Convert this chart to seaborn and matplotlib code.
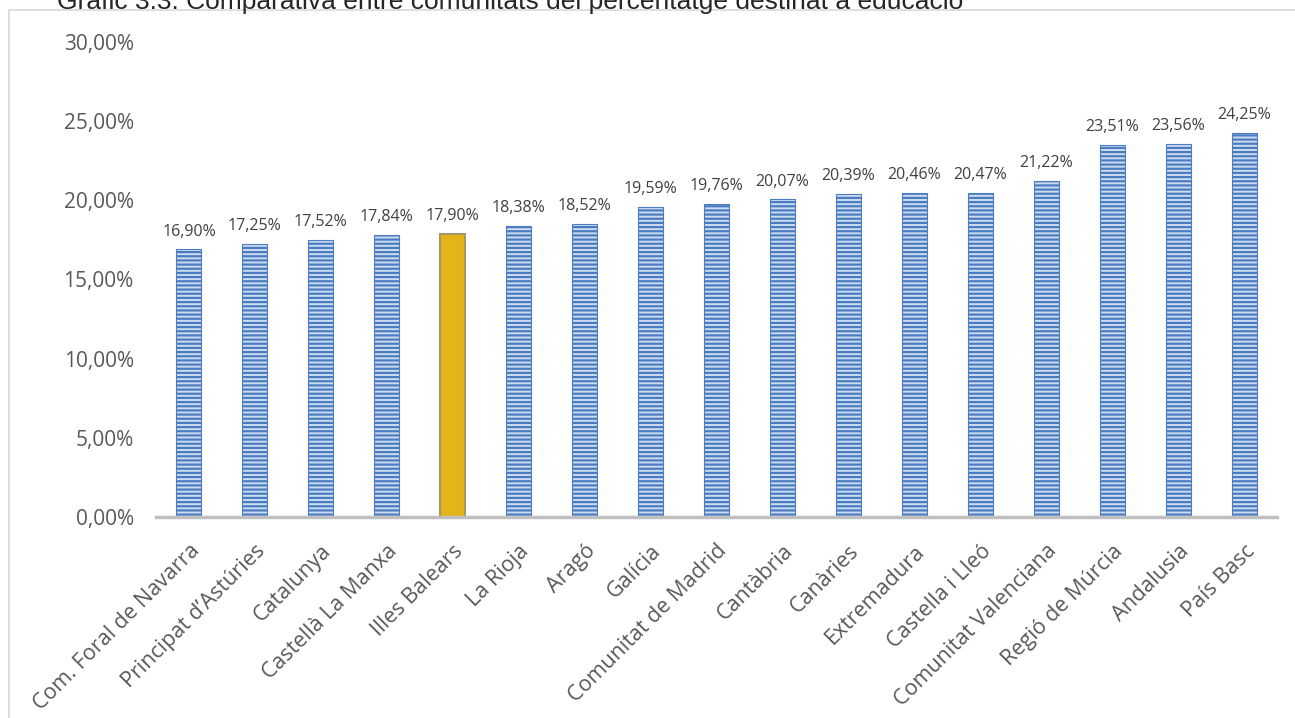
import matplotlib
matplotlib.use("Agg")
import matplotlib.pyplot as plt
import seaborn as sns
import pandas as pd
from matplotlib.lines import Line2D

comunitats = [
    "Com. Foral de Navarra", "Principat d\u2019Ast\u00faries", "Catalunya",
    "Castell\u00e0 La Manxa", "Illes Balears", "La Rioja", "Arag\u00f3",
    "Gal\u00edcia", "Comunitat de Madrid", "Cant\u00e0bria", "Can\u00e0ries",
    "Extremadura", "Castella i Lle\u00f3", "Comunitat Valenciana",
    "Regi\u00f3 de M\u00farcia", "Andalusia", "Pa\u00eds Basc",
]
percentatge = [16.90, 17.25, 17.52, 17.84, 17.90, 18.38, 18.52, 19.59, 19.76,
               20.07, 20.39, 20.46, 20.47, 21.22, 23.51, 23.56, 24.25]
destacada = "Illes Balears"
yticks = [0, 5, 10, 15, 20, 25, 30]

df = pd.DataFrame({"comunitat": comunitats, "valor": [v / 100 for v in percentatge]})

sns.set_style("white")
plt.rcParams["font.family"] = ["Open Sans", "DejaVu Sans"]
plt.rcParams["hatch.linewidth"] = 1.6

fig = plt.figure(figsize=(12.95, 7.18), dpi=100)
ax = fig.add_axes([156 / 1295, 1 - 517 / 718, (1277 - 156) / 1295, (517 - 42) / 718])

blau = "#4a7cc2"
or_ = "#e5b416"
palette = {c: (or_ if c == destacada else "#cfdcf0") for c in comunitats}
sns.barplot(data=df, x="comunitat", y="valor", hue="comunitat", palette=palette,
            legend=False, width=0.38, ax=ax, saturation=1)

for patch, c in zip(ax.patches, comunitats):
    if c == destacada:
        patch.set_edgecolor("#a09a68")
        patch.set_linewidth(1.5)
    else:
        patch.set_edgecolor(blau)
        patch.set_linewidth(0.8)
        patch.set_hatch("----")

for i, v in enumerate(percentatge):
    ax.annotate(f"{v:.2f}%".replace(".", ","), (i, v / 100), xytext=(0, 7),
                textcoords="offset points", ha="center", va="bottom",
                fontsize=11.5, color="#404040")

ax.set_xlim(-0.5, len(comunitats) - 0.5)
ax.set_ylim(0, 0.30)
ax.set_yticks([t / 100 for t in yticks])
ax.set_yticklabels([f"{t:.2f}%".replace(".", ",") for t in yticks], fontsize=15, color="#595959")
ax.set_xticks(range(len(comunitats)))
ax.set_xticklabels(comunitats, rotation=45, ha="right", rotation_mode="anchor",
                   fontsize=15.5, color="#595959")
ax.tick_params(axis="x", length=0, pad=17)
ax.tick_params(axis="y", length=0, pad=16)
ax.set_xlabel("")
ax.set_ylabel("")
for s in ["top", "right", "left"]:
    ax.spines[s].set_visible(False)
ax.spines["bottom"].set_color("#c0c0c0")
ax.spines["bottom"].set_linewidth(2.5)

# marc del gràfic
fig.add_artist(Line2D([9 / 1295, 1], [1 - 10 / 718, 1 - 10 / 718], color="#d9d9d9", lw=1.2))
fig.add_artist(Line2D([9 / 1295, 9 / 1295], [0, 1 - 10 / 718], color="#d9d9d9", lw=1.2))

fig.text(57 / 1295, 1 - 9 / 718,
         "Gr\u00e0fic 3.3: Comparativa entre comunitats del percentatge destinat a educaci\u00f3",
         family=["Liberation Sans", "DejaVu Sans"], fontsize=19, va="baseline", ha="left")

fig.savefig("out.png", dpi=100)
